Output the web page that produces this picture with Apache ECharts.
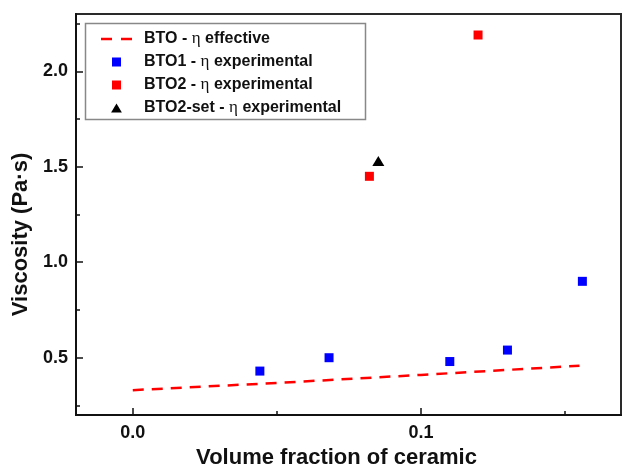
<!DOCTYPE html>
<html>
<head>
<meta charset="utf-8">
<title>Viscosity vs volume fraction</title>
<script src="https://cdn.jsdelivr.net/npm/echarts@6/dist/echarts.min.js"></script>
<style>
  html, body { margin: 0; padding: 0; background: #fff; }
  #chart { width: 622px; height: 471px; }
</style>
</head>
<body>
<div id="chart"></div>
<script>
// values
const effX = [0, 0.05, 0.1, 0.155];
const effY = [0.33, 0.368, 0.41, 0.458];

const bto1X = [0.0441, 0.0681, 0.110, 0.130, 0.156];
const bto1Y = [0.43, 0.50, 0.48, 0.54, 0.90];

const bto2X = [0.0821, 0.1198];
const bto2Y = [1.45, 2.19];

const bto2SetX = [0.0852];
const bto2SetY = [1.53];

const xLabels = [0, 0.1];
const xMinor = [0.05, 0.15];
const yLabels = [0.5, 1.0, 1.5, 2.0];
const yMinor = [0.25, 0.75, 1.25, 1.75, 2.25];

const names = [
  "BTO - η effective",
  "BTO1 - η experimental",
  "BTO2 - η experimental",
  "BTO2-set - η experimental",
];

const pairs = (xs, ys) => xs.map((x, i) => [x, ys[i]]);

const FONT = "'Liberation Sans', Arial, sans-serif";
const X_MIN = -0.0197, X_MAX = 0.1694;
const Y_MIN = 0.2, Y_MAX = 2.3;

const chart = echarts.init(document.getElementById("chart"));

// overlay axes only used for the short minor ticks
const minorAxis = (min, max, position, values) => ({
  type: "value", min, max, position,
  axisLine: { show: false, onZero: false },
  axisTick: { inside: true, length: 4, lineStyle: { color: "#111", width: 1.5 }, customValues: values },
  axisLabel: { show: false },
  splitLine: { show: false },
});

const option = {
  animation: false,
  backgroundColor: "#fff",
  grid: {
    left: 76, right: 1, top: 14, bottom: 56,
    outerBoundsMode: "none",
    show: true, borderWidth: 2, borderColor: "#2a2a2a",
  },
  xAxis: [
    {
      type: "value", min: X_MIN, max: X_MAX, position: "bottom",
      axisLine: { show: true, onZero: false, lineStyle: { color: "#111", width: 2 } },
      axisTick: { inside: true, length: 7, lineStyle: { color: "#111", width: 1.5 }, customValues: xLabels },
      axisLabel: {
        customValues: xLabels, margin: 9,
        fontFamily: FONT, fontSize: 18, fontWeight: "bold", color: "#111",
        formatter: (v) => v.toFixed(1),
      },
      splitLine: { show: false },
      name: "Volume fraction of ceramic",
      nameLocation: "middle", nameGap: 32,
      nameTextStyle: { fontFamily: FONT, fontSize: 22, fontWeight: "bold", color: "#111", padding: [0, 24, 0, 0] },
    },
    minorAxis(X_MIN, X_MAX, "bottom", xMinor),
  ],
  yAxis: [
    {
      type: "value", min: Y_MIN, max: Y_MAX, position: "left",
      axisLine: { show: true, onZero: false, lineStyle: { color: "#111", width: 2 } },
      axisTick: { inside: true, length: 7, lineStyle: { color: "#111", width: 1.5 }, customValues: yLabels },
      axisLabel: {
        customValues: yLabels, margin: 8,
        fontFamily: FONT, fontSize: 18, fontWeight: "bold", color: "#111",
        formatter: (v) => v.toFixed(1),
      },
      splitLine: { show: false },
      name: "Viscosity (Pa·s)",
      nameLocation: "middle", nameGap: 43,
      nameTextStyle: { fontFamily: FONT, fontSize: 22, fontWeight: "bold", color: "#111", padding: [0, 40, 0, 0] },
    },
    minorAxis(Y_MIN, Y_MAX, "left", yMinor),
  ],
  legend: {
    orient: "vertical",
    left: 101, top: 30,
    padding: 0,
    itemWidth: 31, itemHeight: 9, itemGap: 5,
    data: [
      { name: names[0], icon: "path://M0,0H11V2.5H0ZM20,0H31V2.5H20Z" },
      { name: names[1], icon: "path://M0,0H10V10H0Z" },
      { name: names[2], icon: "path://M0,0H10V10H0Z" },
      { name: names[3], icon: "path://M6,0L12,10L0,10Z" },
    ],
    formatter: (n) => n.replace("η", "{e|η}"),
    textStyle: {
      fontFamily: FONT, fontSize: 16, fontWeight: "bold", color: "#111",
      lineHeight: 18, padding: [0, 0, 0, 7],
      rich: { e: { fontFamily: "'Liberation Serif', serif", fontSize: 17, fontWeight: "normal", color: "#111", lineHeight: 18 } },
    },
  },
  graphic: [
    {
      type: "rect", left: 83, top: 21, silent: true,
      shape: { width: 280, height: 96 },
      style: { fill: "none", stroke: "#888", lineWidth: 1.5 },
    },
  ],
  series: [
    {
      name: names[0], type: "line", data: pairs(effX, effY),
      symbol: "none", smooth: false,
      lineStyle: { color: "#ff0000", width: 2.5, type: [11, 8] },
      itemStyle: { color: "#ff0000" },
    },
    {
      name: names[1], type: "scatter", data: pairs(bto1X, bto1Y),
      symbol: "rect", symbolSize: 9, itemStyle: { color: "#0000ff", opacity: 1 },
    },
    {
      name: names[2], type: "scatter", data: pairs(bto2X, bto2Y),
      symbol: "rect", symbolSize: 9, itemStyle: { color: "#ff0000", opacity: 1 },
    },
    {
      name: names[3], type: "scatter", data: pairs(bto2SetX, bto2SetY),
      symbol: "triangle", symbolSize: [12, 10], itemStyle: { color: "#000", opacity: 1 },
    },
  ],
};

chart.setOption(option);
</script>
</body>
</html>
